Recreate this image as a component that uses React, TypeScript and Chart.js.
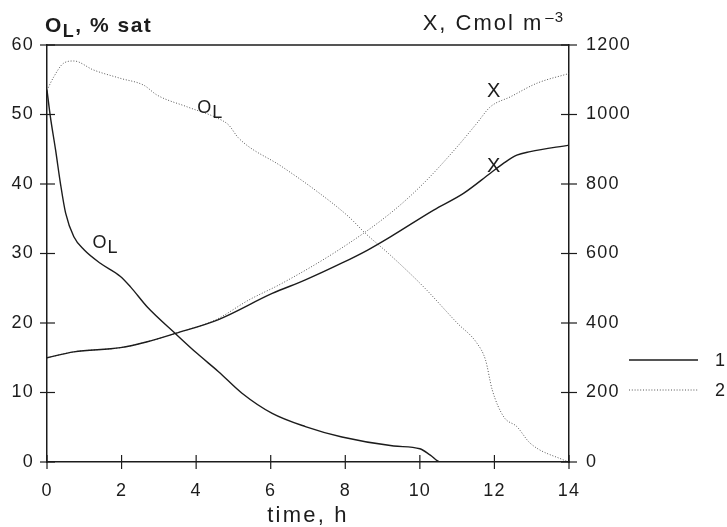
import React, { useEffect, useRef } from "react";
import { Chart, registerables } from "chart.js";

Chart.register(...registerables);

// Run 1 (solid): dissolved oxygen, % saturation
const run1OxygenTime = [0, 0.09, 0.23, 0.36, 0.5, 0.72, 1.0, 1.43, 1.97, 2.24, 2.69, 3.44, 4.03, 4.6, 5.23, 6.04, 6.93, 7.91, 9.3, 10.0, 10.28, 10.55, 14];
const run1Oxygen = [53.5, 49.7, 44.9, 40.1, 35.8, 32.4, 30.5, 28.6, 26.7, 25.2, 22.3, 18.5, 15.6, 13.0, 9.9, 7.0, 5.1, 3.6, 2.3, 1.9, 1.0, 0, 0];

// Run 1 (solid): biomass, Cmol m^-3
const run1BiomassTime = [0, 0.72, 1.97, 2.69, 3.44, 4.6, 6.04, 6.93, 7.9, 8.6, 9.21, 10.37, 11.17, 11.89, 12.25, 12.6, 12.96, 14];
const run1Biomass = [300, 317, 329, 346, 370, 410, 485, 524, 572, 610, 648, 725, 773, 831, 860, 883, 893, 912];

// Run 2 (dotted): dissolved oxygen, % saturation
const run2OxygenTime = [0, 0.18, 0.45, 0.72, 1.25, 1.97, 2.6, 2.95, 3.76, 4.56, 4.87, 5.14, 6.3, 7.2, 8.09, 8.54, 9.16, 10.1, 11.0, 11.53, 11.76, 11.94, 12.25, 12.6, 12.96, 13.85, 14];
const run2Oxygen = [53.5, 55.4, 57.4, 57.7, 56.4, 55.2, 54.2, 52.8, 51.1, 49.5, 48.5, 46.6, 42.5, 39.1, 35.3, 32.9, 30.0, 25.2, 20.0, 17.1, 14.7, 10.4, 6.5, 5.1, 2.7, 0.3, 0];

// Run 2 (dotted): biomass, Cmol m^-3
const run2BiomassTime = [0, 0.72, 1.97, 2.69, 3.44, 4.52, 5.41, 6.3, 7.82, 9.21, 10.1, 11.0, 11.53, 11.89, 12.43, 13.14, 14];
const run2Biomass = [300, 317, 329, 346, 370, 409, 466, 514, 610, 716, 802, 907, 975, 1022, 1051, 1090, 1118];

// Axis ticks
const timeTicks = [0, 2, 4, 6, 8, 10, 12, 14];
const oxygenTicks = [0, 10, 20, 30, 40, 50, 60];
const biomassTicks = [0, 200, 400, 600, 800, 1000, 1200];

const runLabels = ["1", "2"];

// Curve annotations: text, subscript, time, value, axis
const curveNotes = [
  { text: "O", sub: "L", t: 1.22, v: 30.8, axis: "yO", align: "left" },
  { text: "O", sub: "L", t: 4.03, v: 50.2, axis: "yO", align: "left" },
  { text: "X", sub: "", t: 11.98, v: 1050, axis: "yX", align: "center" },
  { text: "X", sub: "", t: 11.98, v: 834, axis: "yX", align: "center" },
];

const FONT = '"Liberation Sans", Arial, Helvetica, sans-serif';
const INK = "#1c1c1c";

const zip = (xs: number[], ys: number[]) => xs.map((x, i) => ({ x, y: ys[i] }));

const solidStyle = { borderColor: INK, borderWidth: 1.4, borderDash: [] as number[] };
const dottedStyle = { borderColor: "#555", borderWidth: 1, borderDash: [1, 1.8] };

const decor = {
  id: "decor",
  beforeDraw(chart: any) {
    chart.ctx.letterSpacing = "1.2px";
  },
  afterDraw(chart: any) {
    const { ctx, chartArea: a, scales } = chart;
    ctx.save();
    ctx.strokeStyle = INK;
    ctx.fillStyle = INK;

    const seg = (x1: number, y1: number, x2: number, y2: number) => {
      ctx.beginPath();
      ctx.moveTo(x1, y1);
      ctx.lineTo(x2, y2);
      ctx.stroke();
    };

    // top edge of the frame
    ctx.lineWidth = 1.5;
    seg(a.left, a.top, a.right, a.top);

    // tick marks crossing each axis
    ctx.lineWidth = 1.2;
    timeTicks.forEach((v) => {
      const x = scales.x.getPixelForValue(v);
      seg(x, a.bottom - 7, x, a.bottom + 7);
    });
    oxygenTicks.forEach((v) => {
      const y = scales.yO.getPixelForValue(v);
      seg(a.left - 7, y, a.left + 8, y);
    });
    biomassTicks.forEach((v) => {
      const y = scales.yX.getPixelForValue(v);
      seg(a.right - 8, y, a.right + 8, y);
    });

    const put = (s: string, x: number, y: number, font: string, spacing: number) => {
      ctx.font = font;
      ctx.letterSpacing = spacing + "px";
      ctx.fillText(s, x, y);
      return ctx.measureText(s).width;
    };

    ctx.textBaseline = "alphabetic";
    ctx.textAlign = "left";

    // left axis title: O_L, % sat
    {
      let x = a.left - 2;
      const base = a.top - 13;
      x += put("O", x, base, `bold 21px ${FONT}`, 1.5);
      x += put("L", x, base + 5, `bold 18px ${FONT}`, 1.5);
      put(", % sat", x, base, `bold 21px ${FONT}`, 1.5);
    }

    // right axis title: X, Cmol m^-3
    {
      const base = a.top - 15;
      ctx.font = `22px ${FONT}`;
      ctx.letterSpacing = "2px";
      const w1 = ctx.measureText("X, Cmol m").width;
      ctx.font = `15px ${FONT}`;
      ctx.letterSpacing = "1px";
      const w2 = ctx.measureText("\u20133").width;
      let x = a.right - 5 - w1 - w2 - 2;
      x += put("X, Cmol m", x, base, `22px ${FONT}`, 2);
      put("\u20133", x + 2, base - 8, `15px ${FONT}`, 1);
    }

    // x axis title
    ctx.textAlign = "center";
    put("time, h", (a.left + a.right) / 2, 522, `22px ${FONT}`, 2.2);

    // curve labels
    curveNotes.forEach((n) => {
      const x = scales.x.getPixelForValue(n.t);
      const y = scales[n.axis].getPixelForValue(n.v);
      if (n.align === "center") {
        ctx.textAlign = "center";
        put(n.text, x, y, `20px ${FONT}`, 0);
      } else {
        ctx.textAlign = "left";
        const w = put(n.text, x, y, `18px ${FONT}`, 1);
        put(n.sub, x + w, y + 5, `18px ${FONT}`, 1);
      }
    });

    // legend
    ctx.textAlign = "left";
    ctx.textBaseline = "middle";
    const styles = [chart.data.datasets[0], chart.data.datasets[2]];
    runLabels.forEach((lab, i) => {
      const ds: any = styles[i];
      const y = a.top + 315 + i * 30;
      ctx.strokeStyle = ds.borderColor;
      ctx.lineWidth = ds.borderWidth;
      ctx.setLineDash(ds.borderDash || []);
      seg(a.right + 60, y, a.right + 129, y);
      ctx.setLineDash([]);
      ctx.fillStyle = INK;
      put(lab, a.right + 146, y + 1, `18px ${FONT}`, 1);
    });

    ctx.restore();
  },
};

export default function App() {
  const ref = useRef<HTMLCanvasElement>(null);

  useEffect(() => {
    const line = (label: string, data: any, axis: string, style: any) => ({
      label,
      data,
      yAxisID: axis,
      ...style,
      pointRadius: 0,
      fill: false,
      cubicInterpolationMode: "monotone" as const,
    });

    const tickFont = { family: FONT, size: 18 };
    const plain = (v: any) => String(v);

    const chart = new Chart(ref.current!, {
      type: "line",
      data: {
        datasets: [
          line("1", zip(run1OxygenTime, run1Oxygen), "yO", solidStyle),
          line("1", zip(run1BiomassTime, run1Biomass), "yX", solidStyle),
          line("2", zip(run2OxygenTime, run2Oxygen), "yO", dottedStyle),
          line("2", zip(run2BiomassTime, run2Biomass), "yX", dottedStyle),
        ],
      },
      options: {
        responsive: false,
        devicePixelRatio: 1,
        animation: false,
        parsing: false,
        layout: { padding: { top: 45, left: 0, right: 0, bottom: 0 } },
        plugins: { legend: { display: false }, tooltip: { enabled: false } },
        scales: {
          x: {
            type: "linear",
            min: 0,
            max: 14,
            afterBuildTicks: (s: any) => {
              s.ticks = timeTicks.map((value) => ({ value }));
            },
            ticks: { font: tickFont, color: INK, padding: 18, maxRotation: 0, callback: plain },
            grid: { display: false, drawTicks: false },
            border: { display: true, color: INK, width: 1.5 },
            afterFit: (s: any) => {
              s.height = 65;
            },
          },
          yO: {
            type: "linear",
            position: "left",
            min: 0,
            max: 60,
            afterBuildTicks: (s: any) => {
              s.ticks = oxygenTicks.map((value) => ({ value }));
            },
            ticks: { font: tickFont, color: INK, padding: 13, callback: plain },
            grid: { display: false, drawTicks: false },
            border: { display: true, color: INK, width: 1.5 },
            afterFit: (s: any) => {
              s.width = 47;
            },
          },
          yX: {
            type: "linear",
            position: "right",
            min: 0,
            max: 1200,
            afterBuildTicks: (s: any) => {
              s.ticks = biomassTicks.map((value) => ({ value }));
            },
            ticks: { font: tickFont, color: INK, padding: 17, callback: plain },
            grid: { display: false, drawTicks: false },
            border: { display: true, color: INK, width: 1.5 },
            afterFit: (s: any) => {
              s.width = 158;
            },
          },
        },
      },
      plugins: [decor],
    });

    return () => chart.destroy();
  }, []);

  return (
    <div style={{ position: "fixed", left: 0, top: 0, width: 727, height: 527, background: "#fff" }}>
      <canvas ref={ref} width={727} height={527} style={{ display: "block", width: 727, height: 527 }} />
    </div>
  );
}
